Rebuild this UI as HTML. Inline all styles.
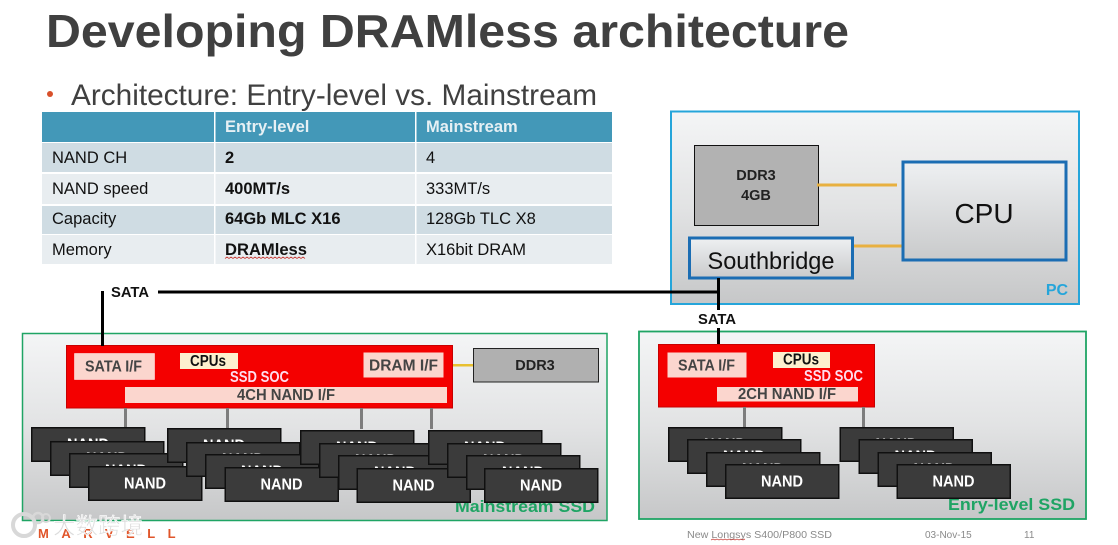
<!DOCTYPE html>
<html><head><meta charset="utf-8"><title>Developing DRAMless architecture</title>
<style>html,body{margin:0;padding:0;background:#fff}svg{display:block}text{font-family:"Liberation Sans",Arial,"Noto Sans CJK SC",sans-serif}</style></head>
<body>
<svg xmlns="http://www.w3.org/2000/svg" width="1118" height="545" viewBox="0 0 1118 545">
<defs>
<linearGradient id="g" x1="0" y1="0" x2="0" y2="1"><stop offset="0" stop-color="#f4f5f6"/><stop offset=".5" stop-color="#e2e3e4"/><stop offset="1" stop-color="#c6c7c8"/></linearGradient>
<linearGradient id="g2" x1="0" y1="0" x2="0" y2="1"><stop offset="0" stop-color="#eef0f2"/><stop offset="1" stop-color="#c9cacb"/></linearGradient>
<g id="nand"><rect x=".75" y=".75" width="113" height="33.5" fill="#3b3b3b" stroke="#101010" stroke-width="1.5"/><text x="36" y="22.5" font-size="16" font-weight="bold" fill="#fff" textLength="42" lengthAdjust="spacingAndGlyphs">NAND</text></g>
</defs>
<rect width="1118" height="545" fill="#fff"/>

<text x="46" y="47" font-size="46" font-weight="bold" fill="#404040" textLength="803" lengthAdjust="spacingAndGlyphs">Developing DRAMless architecture</text>
<circle cx="50" cy="94" r="3" fill="#d8502a"/>
<text x="71" y="105" font-size="30" fill="#404040" textLength="526" lengthAdjust="spacingAndGlyphs">Architecture: Entry-level vs. Mainstream</text>

<!-- table -->
<rect x="42" y="112" width="570" height="30" fill="#4398b8"/>
<rect x="42" y="143" width="570" height="29" fill="#cfdce3"/>
<rect x="42" y="174" width="570" height="30" fill="#e8edf0"/>
<rect x="42" y="206" width="570" height="28" fill="#cfdce3"/>
<rect x="42" y="235" width="570" height="29" fill="#e8edf0"/>
<rect x="214" y="112" width="1.5" height="152" fill="#fff"/>
<rect x="415" y="112" width="1.5" height="152" fill="#fff"/>
<g font-size="16.500" fill="#111">
<text x="225" y="132" font-weight="bold" fill="#e6f0f4">Entry-level</text>
<text x="426" y="132" font-weight="bold" fill="#e6f0f4">Mainstream</text>
<text x="52" y="163">NAND CH</text><text x="225" y="163" font-weight="bold">2</text><text x="426" y="163">4</text>
<text x="52" y="194">NAND speed</text><text x="225" y="194" font-weight="bold">400MT/s</text><text x="426" y="194">333MT/s</text>
<text x="52" y="224">Capacity</text><text x="225" y="224" font-weight="bold">64Gb MLC X16</text><text x="426" y="224">128Gb TLC X8</text>
<text x="52" y="255">Memory</text><text x="225" y="255" font-weight="bold" textLength="82" lengthAdjust="spacingAndGlyphs">DRAMless</text><text x="426" y="255">X16bit DRAM</text>
</g>
<path d="M225 258.500l2-1.500 2 1.500 2-1.500 2 1.500 2-1.500 2 1.500 2-1.500 2 1.500 2-1.500 2 1.500 2-1.500 2 1.500 2-1.500 2 1.500 2-1.500 2 1.500 2-1.500 2 1.500 2-1.500 2 1.500 2-1.500 2 1.500 2-1.500 2 1.500 2-1.500 2 1.500 2-1.500 2 1.500 2-1.500 2 1.500 2-1.500 2 1.500 2-1.500 2 1.500 2-1.500 2 1.500 2-1.500 2 1.500 2-1.500 2 1.500" fill="none" stroke="#c8403a" stroke-width=".8"/>

<!-- PC -->
<rect x="671" y="111.500" width="408" height="192.500" fill="url(#g)" stroke="#25a5da" stroke-width="2"/>
<rect x="694.500" y="145.500" width="124" height="80" fill="#b2b2b2" stroke="#111" stroke-width="1"/>
<text x="756" y="180" font-size="14.500" font-weight="bold" fill="#222" text-anchor="middle">DDR3</text>
<text x="756" y="200" font-size="14.500" font-weight="bold" fill="#222" text-anchor="middle">4GB</text>
<rect x="817" y="183.500" width="80" height="3" fill="#e8b040"/>
<rect x="854" y="244.500" width="48" height="3" fill="#e8b040"/>
<rect x="903" y="162" width="163" height="98" fill="url(#g2)" stroke="#1b6db3" stroke-width="3"/>
<text x="984" y="223" font-size="28" fill="#111" text-anchor="middle">CPU</text>
<rect x="689.500" y="238" width="163" height="40" fill="url(#g2)" stroke="#1b6db3" stroke-width="3"/>
<text x="771" y="269" font-size="24" fill="#111" text-anchor="middle" textLength="127" lengthAdjust="spacingAndGlyphs">Southbridge</text>
<text x="1057" y="295" font-size="16" font-weight="bold" fill="#25a5da" text-anchor="middle">PC</text>

<!-- Mainstream SSD -->
<rect x="22.500" y="333.500" width="584.500" height="187" fill="url(#g)" stroke="#1fa464" stroke-width="1.500"/>
<text x="455" y="512" font-size="17" font-weight="bold" fill="#1fa464" textLength="140" lengthAdjust="spacingAndGlyphs">Mainstream SSD</text>
<rect x="66.500" y="345.500" width="386" height="62.500" fill="#f40000" stroke="#c80000" stroke-width="1"/>
<rect x="74.500" y="353.500" width="80" height="26" fill="#fbd6ce" stroke="#fff" stroke-width=".5"/>
<g font-size="15.500" font-weight="bold">
<text x="85" y="371.500" fill="#444" textLength="57" lengthAdjust="spacingAndGlyphs">SATA I/F</text>
<rect x="180" y="353" width="58" height="16" fill="#fdf0cf"/>
<text x="190" y="366" fill="#111" textLength="36" lengthAdjust="spacingAndGlyphs">CPUs</text>
<text x="230" y="382" fill="#fde" textLength="59" lengthAdjust="spacingAndGlyphs">SSD SOC</text>
<rect x="363.500" y="352.500" width="80" height="25" fill="#fbd6ce"/>
<text x="369" y="370.500" fill="#444" textLength="69" lengthAdjust="spacingAndGlyphs">DRAM I/F</text>
<rect x="125" y="387" width="322" height="16" fill="#fbd6ce"/>
<text x="237" y="400" fill="#444" textLength="98" lengthAdjust="spacingAndGlyphs">4CH NAND I/F</text>
</g>
<rect x="453" y="364" width="20" height="2.500" fill="#e8c030"/>
<rect x="473.500" y="348.500" width="125" height="33.500" fill="#b0b0b0" stroke="#222" stroke-width="1"/>
<text x="535" y="370" font-size="14.500" font-weight="bold" fill="#222" text-anchor="middle">DDR3</text>
<g fill="#7d7d7d"><rect x="124" y="408" width="3" height="20"/><rect x="226" y="408" width="3" height="20"/><rect x="360" y="408" width="3" height="21"/><rect x="430" y="408" width="3" height="21"/></g>
<use href="#nand" x="31" y="427"/><use href="#nand" x="50" y="441"/><use href="#nand" x="69" y="453"/><use href="#nand" x="88" y="466"/>
<use href="#nand" x="167" y="428"/><use href="#nand" x="186" y="442"/><use href="#nand" x="205" y="454"/><use href="#nand" x="224.500" y="467"/>
<use href="#nand" x="300" y="430"/><use href="#nand" x="319" y="443"/><use href="#nand" x="338" y="455"/><use href="#nand" x="356.500" y="468"/>
<use href="#nand" x="428" y="430"/><use href="#nand" x="447" y="443"/><use href="#nand" x="466" y="455"/><use href="#nand" x="484" y="468"/>

<!-- Entry SSD -->
<rect x="639" y="331.500" width="447" height="187.500" fill="url(#g)" stroke="#1fa464" stroke-width="1.800"/>
<text x="948" y="510" font-size="17" font-weight="bold" fill="#1fa464" textLength="127" lengthAdjust="spacingAndGlyphs">Enry-level SSD</text>
<rect x="658.500" y="344.500" width="216" height="62.500" fill="#f40000" stroke="#c80000" stroke-width="1"/>
<rect x="667.500" y="352.500" width="79" height="25" fill="#fbd6ce"/>
<g font-size="15.500" font-weight="bold">
<text x="678" y="370.500" fill="#444" textLength="57" lengthAdjust="spacingAndGlyphs">SATA I/F</text>
<rect x="773" y="352" width="57" height="16" fill="#fdf0cf"/>
<text x="783" y="364.500" fill="#111" textLength="36" lengthAdjust="spacingAndGlyphs">CPUs</text>
<text x="804" y="381" fill="#fde" textLength="59" lengthAdjust="spacingAndGlyphs">SSD SOC</text>
<rect x="717" y="387" width="141" height="14.500" fill="#fbd6ce"/>
<text x="738" y="399" fill="#444" textLength="98" lengthAdjust="spacingAndGlyphs">2CH NAND I/F</text>
</g>
<g fill="#7d7d7d"><rect x="743" y="407" width="3" height="20"/><rect x="862" y="407" width="3" height="20"/></g>
<use href="#nand" x="668" y="427"/><use href="#nand" x="687" y="439"/><use href="#nand" x="706" y="452"/><use href="#nand" x="725" y="464"/>
<use href="#nand" x="839.500" y="427"/><use href="#nand" x="858.500" y="439"/><use href="#nand" x="877.500" y="452"/><use href="#nand" x="896.500" y="464"/>

<!-- SATA lines -->
<g fill="#000">
<rect x="158" y="290.500" width="561" height="3"/>
<rect x="717" y="278" width="3" height="32"/>
<rect x="717" y="328" width="3" height="16"/>
<rect x="101" y="291" width="3" height="55"/>
</g>
<text x="111" y="297" font-size="15" font-weight="bold" fill="#111" textLength="38" lengthAdjust="spacingAndGlyphs">SATA</text>
<text x="698" y="324" font-size="15" font-weight="bold" fill="#111" textLength="38" lengthAdjust="spacingAndGlyphs">SATA</text>

<!-- footer -->
<g font-size="10" fill="#8a8a8a">
<text x="687" y="538" textLength="145" lengthAdjust="spacingAndGlyphs">New Longsys S400/P800 SSD</text>
<text x="925" y="538">03-Nov-15</text>
<text x="1024" y="538">11</text>
</g>
<path d="M711 540l2-1 2 1 2-1 2 1 2-1 2 1 2-1 2 1 2-1 2 1 2-1 2 1 2-1 2 1 2-1 2 1 2-1" fill="none" stroke="#c8403a" stroke-width=".7"/>
<text x="38" y="538" font-size="13" font-weight="bold" fill="#e0552a" letter-spacing="12.500">MARVELL</text>
<text x="53" y="534" font-size="22.500" fill="#dcdcdc" stroke="#fff" stroke-width=".6">大数跨境</text>
<circle cx="24" cy="525" r="11" fill="none" stroke="#d8d8d8" stroke-width="4"/>
<circle cx="38" cy="518" r="5" fill="none" stroke="#d8d8d8" stroke-width="2.500"/>
<circle cx="46" cy="518" r="4" fill="none" stroke="#d8d8d8" stroke-width="2"/>
</svg>
</body></html>
